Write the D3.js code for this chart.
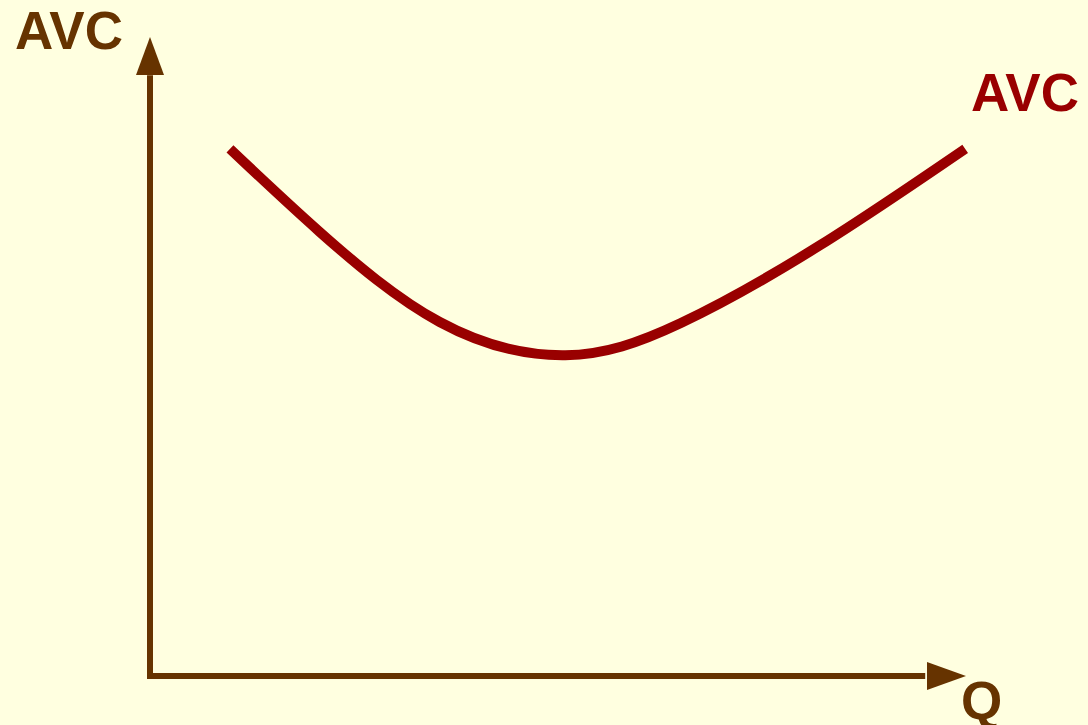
<!DOCTYPE html>
<html>
<head>
<meta charset="utf-8">
<script src="https://cdn.jsdelivr.net/npm/d3@7"></script>
<style>
  html, body { margin: 0; padding: 0; background: #ffffe0; }
  svg { display: block; }
  text { font-family: Arial, "Liberation Sans", sans-serif; font-weight: bold; }
</style>
</head>
<body>
<div id="chart"></div>
<script>
var width = 1088, height = 725;

// quantity and AVC (arbitrary units 0-100)
var qValues   = [9.8, 20.8, 35.5, 50.9, 65.0, 82.1, 99.9];
var avcValues = [82.5, 69.5, 55.4, 50.2, 55.2, 67.4, 82.5];

var axisBrown = '#663300';
var curveRed = '#990000';

var svg = d3.select('#chart')
    .append('svg')
    .attr('width', width)
    .attr('height', height);

svg.append('rect')
    .attr('width', width)
    .attr('height', height)
    .attr('fill', '#ffffe0');

var x = d3.scaleLinear().domain([0, 100]).range([150, 966]);
var y = d3.scaleLinear().domain([0, 100]).range([676, 37]);

// axes
var g = svg.append('g');

g.append('line')
    .attr('x1', x(0)).attr('y1', y(0) + 3)
    .attr('x2', x(0)).attr('y2', y(94))
    .attr('stroke', axisBrown)
    .attr('stroke-width', 6);

g.append('line')
    .attr('x1', x(0) - 3).attr('y1', y(0))
    .attr('x2', x(95)).attr('y2', y(0))
    .attr('stroke', axisBrown)
    .attr('stroke-width', 6);

// arrow heads
g.append('path')
    .attr('d', 'M' + x(0) + ',' + y(100) + 'L' + (x(0) - 14) + ',' + (y(100) + 38) + 'L' + (x(0) + 14) + ',' + (y(100) + 38) + 'Z')
    .attr('fill', axisBrown);

g.append('path')
    .attr('d', 'M' + x(100) + ',' + y(0) + 'L' + (x(100) - 39) + ',' + (y(0) - 14) + 'L' + (x(100) - 39) + ',' + (y(0) + 14) + 'Z')
    .attr('fill', axisBrown);

// AVC curve
var line = d3.line()
    .x(function (d, i) { return x(qValues[i]); })
    .y(function (d) { return y(d); })
    .curve(d3.curveNatural);

svg.append('path')
    .datum(avcValues)
    .attr('d', line)
    .attr('fill', 'none')
    .attr('stroke', curveRed)
    .attr('stroke-width', 10);

// labels
svg.append('text')
    .attr('x', 15).attr('y', 49)
    .attr('font-size', 53)
    .attr('fill', axisBrown)
    .text('AVC');

svg.append('text')
    .attr('x', 971).attr('y', 111)
    .attr('font-size', 53)
    .attr('fill', curveRed)
    .text('AVC');

svg.append('text')
    .attr('x', 961).attr('y', 719)
    .attr('font-size', 53)
    .attr('fill', axisBrown)
    .text('Q');
</script>
</body>
</html>
